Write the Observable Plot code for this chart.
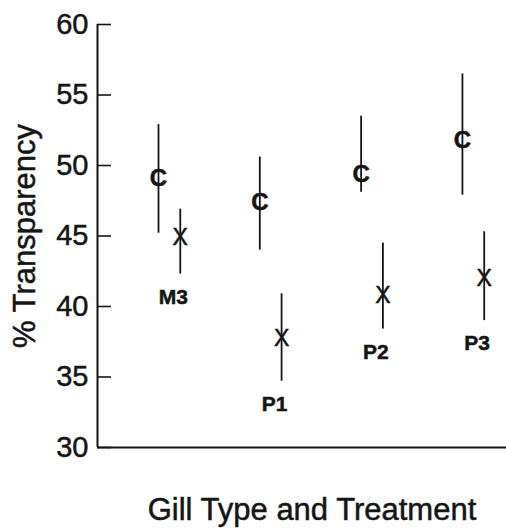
<!DOCTYPE html>
<html>
<head>
<meta charset="utf-8">
<script src="https://cdn.jsdelivr.net/npm/d3@7"></script>
<script src="https://cdn.jsdelivr.net/npm/@observablehq/plot@0.6"></script>
<style>
  html, body { margin: 0; padding: 0; background: #fff; }
  #chart svg { display: block; }
  #chart svg text { stroke: #151515; stroke-width: 0.5px; }
</style>
</head>
<body>
<div id="chart"></div>
<script>
const groups = ["M3", "P1", "P2", "P3"];
const cMean = [49.1, 47.4, 49.4, 51.8];
const cLow  = [45.2, 44.0, 48.1, 47.9];
const cHigh = [52.9, 50.6, 53.5, 56.5];
const xMean = [44.9, 37.7, 40.8, 42.0];
const xLow  = [42.3, 34.7, 38.4, 39.0];
const xHigh = [46.9, 40.9, 44.5, 45.3];
const yTicks = [30, 35, 40, 45, 50, 55, 60];
const yLabel = "% Transparency";
const xLabel = "Gill Type and Treatment";

const dodge = 0.215;           // offset of the treated (X) point within a group
const xDomain = [-0.602, 3.435];

const cData = groups.map((g, i) => ({g, pos: i, mean: cMean[i], low: cLow[i], high: cHigh[i]}));
const xData = groups.map((g, i) => ({g, pos: i + dodge, mean: xMean[i], low: xLow[i], high: xHigh[i]}));

const ink = "#151515";
const font = "'Liberation Sans', Arial, Helvetica, sans-serif";

const chart = Plot.plot({
  width: 506,
  height: 532,
  marginLeft: 97,
  marginRight: 0,
  marginTop: 24,
  marginBottom: 85,
  style: {fontFamily: font, background: "#fff", color: ink},
  x: {domain: xDomain, axis: null},
  y: {domain: [30, 60]},
  marks: [
    Plot.axisY({ticks: yTicks, tickSize: -14, tickPadding: 23, fontSize: 29, label: null, stroke: ink, strokeWidth: 1.6, fill: ink, tickFormat: d => String(d)}),
    Plot.ruleX([xDomain[0]], {stroke: ink, strokeWidth: 2}),
    Plot.ruleY([30], {stroke: ink, strokeWidth: 2}),
    // error bars
    Plot.ruleX(cData, {x: "pos", y1: "low", y2: "high", stroke: ink, strokeWidth: 1.8}),
    Plot.ruleX(xData, {x: "pos", y1: "low", y2: "high", stroke: ink, strokeWidth: 1.8}),
    // markers
    Plot.text(cData, {x: "pos", y: "mean", text: () => "C", fontSize: 24, fontWeight: "bold", fill: ink}),
    Plot.text(xData, {x: "pos", y: "mean", text: () => "X", fontSize: 23, fill: ink}),
    // group labels
    Plot.text(xData, {x: "pos", y: "low", text: "g", dy: 23, dx: -7, fontSize: 21, fontWeight: "bold", fill: ink}),
    // axis titles
    Plot.text([yLabel], {frameAnchor: "left", text: d => d, rotate: -90, textAnchor: "middle", dx: -72, fontSize: 31, fill: ink}),
    Plot.text([xLabel], {frameAnchor: "bottom", text: d => d, dx: 10, dy: 72, fontSize: 31, fill: ink})
  ]
});
document.getElementById("chart").appendChild(chart);
</script>
</body>
</html>
